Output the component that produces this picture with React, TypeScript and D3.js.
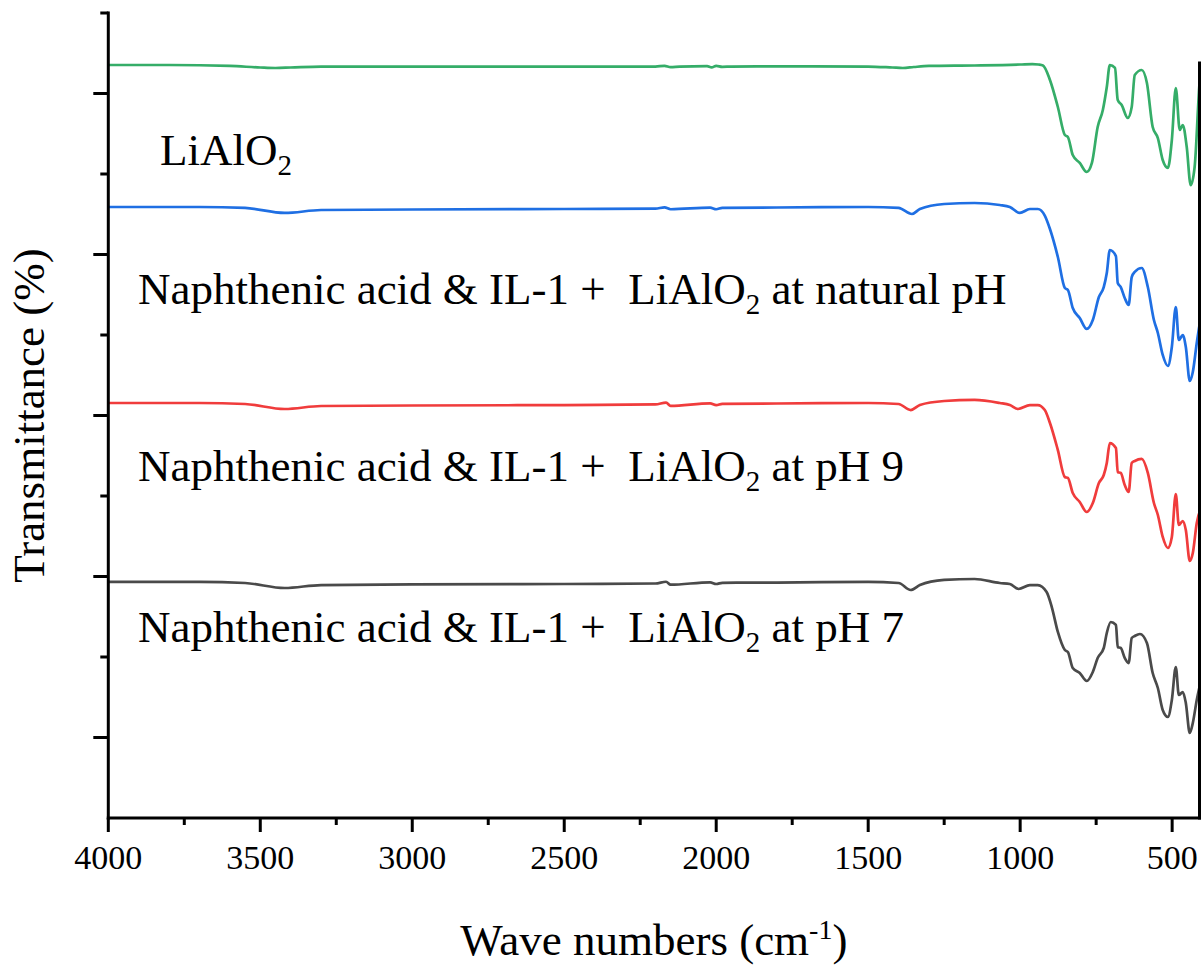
import React from 'react';
import * as d3 from 'd3';

// ---- data (wavenumber cm^-1, transmittance in offset % units) ----
const lialo2: [number, number][] = [
  [4000, 93.54], [3800, 93.54], [3600, 93.42], [3500, 93.23], [3450, 93.17], [3400, 93.23],
  [3300, 93.35], [3000, 93.35], [2500, 93.35], [2200, 93.35], [2170, 93.43], [2150, 93.27],
  [2120, 93.35], [2030, 93.4], [2015, 93.24], [2000, 93.44], [1980, 93.31], [1950, 93.35],
  [1700, 93.38], [1500, 93.35], [1420, 93.23], [1386, 93.17], [1350, 93.29], [1300, 93.42],
  [1150, 93.48], [1000, 93.6], [960, 93.66], [940, 93.6], [925, 93.48], [902, 91.68],
  [876, 88.32], [853, 84.84], [843, 84.6], [827, 82.36], [804, 81.37], [781, 80.25],
  [764, 81.37], [745, 85.84], [728, 87.95], [715, 90.81], [705, 93.54], [688, 93.17],
  [679, 89.19], [666, 88.57], [646, 86.96], [633, 88.32], [623, 92.3], [600, 92.92],
  [583, 91.3], [564, 85.84], [547, 84.47], [531, 81.74], [514, 80.75], [501, 84.22],
  [488, 90.68], [475, 85.47], [465, 86.09], [452, 83.35], [439, 78.63], [426, 80.87],
  [409, 91.68], [403, 93.54],
];

const naturalPH: [number, number][] = [
  [4000, 75.9], [3700, 75.9], [3550, 75.78], [3420, 75.16], [3300, 75.53], [3000, 75.59],
  [2500, 75.65], [2200, 75.71], [2170, 75.85], [2150, 75.62], [2020, 75.82], [2000, 75.62],
  [1980, 75.8], [1800, 75.84], [1500, 75.9], [1400, 75.78], [1356, 75.03], [1330, 75.65],
  [1250, 76.27], [1150, 76.4], [1067, 76.15], [1034, 75.9], [1001, 75.16], [968, 75.65],
  [942, 75.65], [919, 74.84], [902, 73.17], [876, 69.69], [853, 65.84], [843, 65.59],
  [827, 63.35], [804, 62.11], [781, 60.75], [761, 61.86], [741, 64.72], [725, 65.96],
  [715, 67.7], [705, 70.56], [685, 69.81], [679, 66.46], [669, 65.96], [656, 64.6],
  [643, 63.73], [633, 67.2], [623, 67.83], [600, 68.32], [580, 65.96], [560, 61.86],
  [547, 60.25], [531, 57.52], [514, 56.15], [501, 58.51], [488, 63.48], [478, 59.38],
  [465, 60.0], [455, 58.51], [442, 54.29], [432, 55.4], [419, 59.01], [403, 62.86],
];

const ph9: [number, number][] = [
  [4000, 51.55], [3700, 51.55], [3550, 51.43], [3420, 50.81], [3300, 51.18], [3000, 51.24],
  [2500, 51.3], [2200, 51.37], [2165, 51.6], [2150, 51.2], [2020, 51.5], [2000, 51.28],
  [1980, 51.45], [1800, 51.49], [1500, 51.55], [1400, 51.43], [1360, 50.68], [1330, 51.3],
  [1250, 51.8], [1150, 51.93], [1067, 51.55], [1034, 51.3], [1007, 50.81], [968, 51.3],
  [942, 51.3], [919, 50.68], [902, 49.07], [876, 45.71], [853, 42.36], [843, 42.24],
  [827, 40.37], [804, 39.25], [781, 38.01], [761, 39.13], [741, 41.61], [725, 42.61],
  [715, 44.1], [705, 46.58], [685, 45.96], [679, 42.98], [669, 42.86], [656, 41.37],
  [643, 40.5], [633, 44.1], [623, 44.35], [600, 44.6], [580, 42.86], [560, 39.13],
  [547, 37.64], [531, 34.91], [514, 33.54], [501, 34.91], [488, 40.25], [478, 36.4],
  [465, 36.89], [455, 35.78], [442, 31.93], [432, 32.92], [419, 36.65], [403, 38.63],
];

const ph7: [number, number][] = [
  [4000, 29.32], [3700, 29.32], [3550, 29.19], [3420, 28.57], [3300, 28.94], [3000, 29.01],
  [2500, 29.07], [2200, 29.13], [2165, 29.35], [2150, 28.98], [2020, 29.28], [2000, 29.07],
  [1980, 29.22], [1800, 29.25], [1500, 29.32], [1400, 29.19], [1360, 28.32], [1330, 28.94],
  [1250, 29.57], [1150, 29.69], [1067, 29.19], [1034, 29.07], [1005, 28.45], [968, 28.94],
  [942, 28.94], [913, 28.07], [896, 26.21], [876, 23.11], [853, 20.87], [843, 20.62],
  [827, 18.63], [804, 18.01], [781, 17.02], [761, 18.14], [745, 19.88], [725, 21.12],
  [715, 22.98], [702, 24.35], [685, 23.98], [679, 21.24], [669, 21.12], [656, 19.88],
  [643, 19.25], [633, 22.36], [623, 22.61], [606, 22.86], [583, 21.74], [564, 18.01],
  [547, 16.15], [531, 13.42], [514, 12.55], [501, 14.66], [488, 18.76], [478, 15.28],
  [465, 15.65], [455, 14.29], [442, 10.56], [432, 11.8], [419, 14.66], [403, 17.39],
];

const seriesList = [lialo2, naturalPH, ph9, ph7];
const seriesColors = ['#35ad68', '#1f6fe3', '#f03c3c', '#4a4a4a'];

const xMajorTicks = [4000, 3500, 3000, 2500, 2000, 1500, 1000, 500];
const xMinorTicks = [3750, 3250, 2750, 2250, 1750, 1250, 750];
const yMajorTicks = [10, 30, 50, 70, 90];
const yMinorTicks = [20, 40, 60, 80, 100];

const labelMain = ['', 'Naphthenic acid & IL-1 +  ', 'Naphthenic acid & IL-1 +  ', 'Naphthenic acid & IL-1 +  '];
const labelTail = ['', ' at natural pH', ' at pH 9', ' at pH 7'];

const FONT = '"Liberation Serif", "Times New Roman", serif';

export default function App() {
  const left = 108.3, right = 1199.5, top = 13, bottom = 818;
  const x = d3.scaleLinear().domain([4000, 410]).range([left, right]);
  const y = d3.scaleLinear().domain([0, 100]).range([bottom, top]);
  const line = d3
    .line<[number, number]>()
    .x((d) => x(d[0]))
    .y((d) => y(d[1]))
    .curve(d3.curveMonotoneX);

  const labelPos = [
    { x: 160, y: 165 },
    { x: 138, y: 304 },
    { x: 138, y: 481 },
    { x: 138, y: 642 },
  ];

  return (
    <svg
      width={1204}
      height={967}
      style={{ position: 'absolute', left: 0, top: 0, background: '#fff' }}
      fontFamily={FONT}
    >
      <rect x={0} y={0} width={1204} height={967} fill="#fff" />
      <defs>
        <clipPath id="plotClip">
          <rect x={left} y={0} width={right - left} height={bottom} />
        </clipPath>
      </defs>

      <g clipPath="url(#plotClip)">
        {seriesList.map((s, i) => (
          <path key={i} d={line(s) || ''} fill="none" stroke={seriesColors[i]} strokeWidth={2.7} strokeLinejoin="round" />
        ))}
      </g>

      {/* axes */}
      <g stroke="#000" strokeWidth={3} strokeLinecap="square">
        <line x1={left} y1={top} x2={left} y2={bottom} />
        <line x1={left} y1={bottom} x2={right} y2={bottom} />
        <line x1={right} y1={top + 50} x2={right} y2={bottom} />
        {xMajorTicks.map((t) => (
          <line key={'xM' + t} x1={x(t)} x2={x(t)} y1={bottom} y2={bottom + 14} strokeLinecap="butt" />
        ))}
        {xMinorTicks.map((t) => (
          <line key={'xm' + t} x1={x(t)} x2={x(t)} y1={bottom} y2={bottom + 7} strokeLinecap="butt" />
        ))}
        {yMajorTicks.map((t) => (
          <line key={'yM' + t} x1={left - 15} x2={left} y1={y(t)} y2={y(t)} strokeLinecap="butt" />
        ))}
        {yMinorTicks.map((t) => (
          <line key={'ym' + t} x1={left - 8} x2={left} y1={y(t)} y2={y(t)} strokeLinecap="butt" />
        ))}
      </g>

      {xMajorTicks.map((t) => (
        <text key={'xl' + t} x={x(t)} y={869} fontSize={34} textAnchor="middle" fill="#000">
          {t}
        </text>
      ))}

      <text x={(left + right) / 2} y={955} fontSize={45} textAnchor="middle" fill="#000">
        Wave numbers (cm<tspan dy={-16} fontSize={28}>-1</tspan><tspan dy={16}>)</tspan>
      </text>

      <text
        transform={`translate(44, ${(top + bottom) / 2}) rotate(-90)`}
        fontSize={45}
        textAnchor="middle"
        fill="#000"
      >
        Transmittance (%)
      </text>

      {labelPos.map((p, i) => (
        <text key={'lab' + i} x={p.x} y={p.y} fontSize={45} fill="#000" style={{ whiteSpace: 'pre' }}>
          {labelMain[i]}LiAlO<tspan dy={10} fontSize={29}>2</tspan>
          <tspan dy={-10}>{labelTail[i]}</tspan>
        </text>
      ))}
    </svg>
  );
}
